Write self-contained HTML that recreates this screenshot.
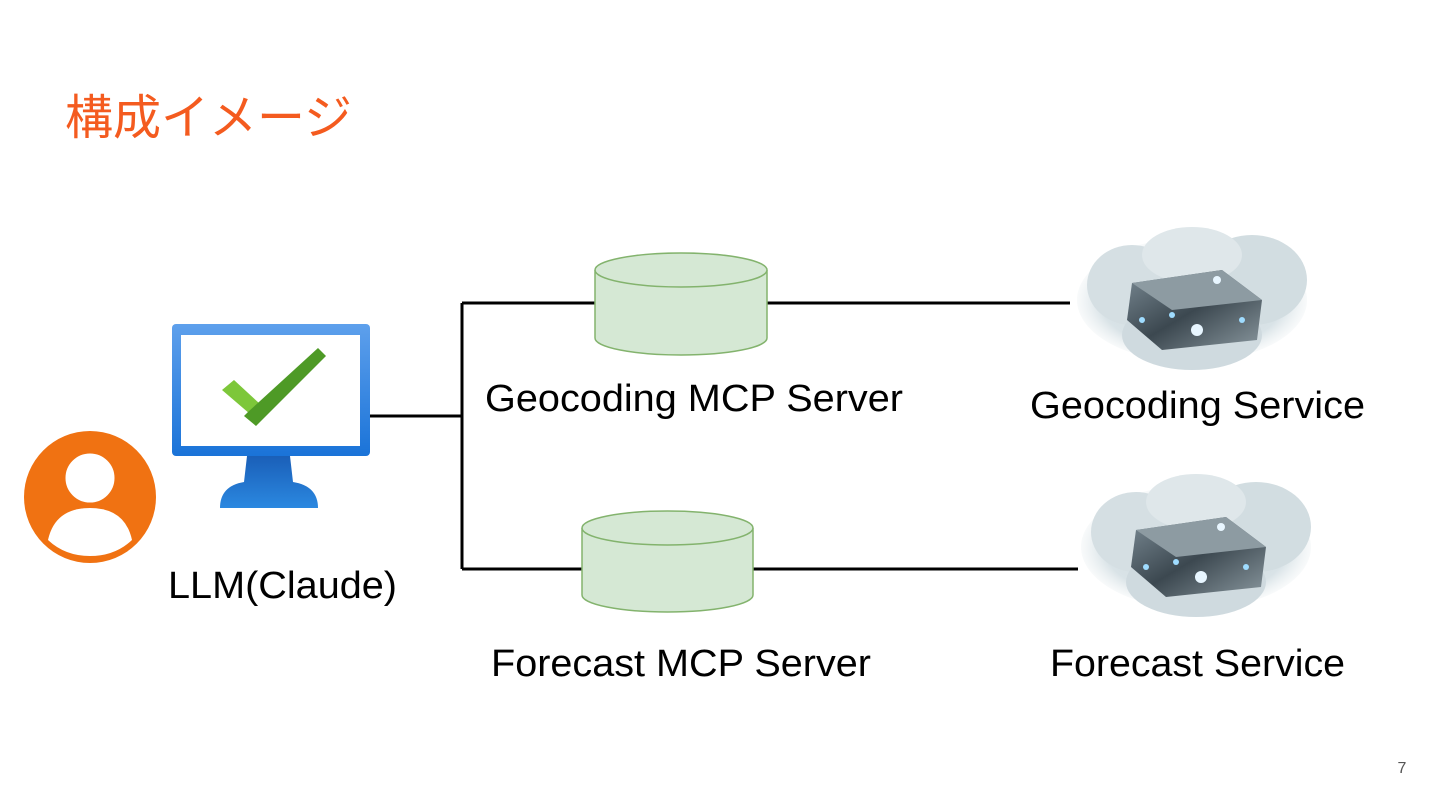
<!DOCTYPE html>
<html><head><meta charset="utf-8"><style>
html,body{margin:0;padding:0;background:#fff;}
svg{display:block;}
</style></head><body>
<svg width="1440" height="810" viewBox="0 0 1440 810" xmlns="http://www.w3.org/2000/svg">
<defs>
<linearGradient id="mon" x1="0" y1="0" x2="0" y2="1"><stop offset="0" stop-color="#5ea0ec"/><stop offset="1" stop-color="#1a73d8"/></linearGradient>
<linearGradient id="stand" x1="0" y1="0" x2="0" y2="1"><stop offset="0" stop-color="#1a5fb8"/><stop offset="1" stop-color="#2b88e0"/></linearGradient>
<radialGradient id="cloud" cx="0.5" cy="0.5" r="0.5"><stop offset="0" stop-color="#c9d6dc"/><stop offset="0.8" stop-color="#d9e3e7"/><stop offset="1" stop-color="#e8eef0" stop-opacity="0.3"/></radialGradient>
<linearGradient id="box" x1="0" y1="0" x2="1" y2="1"><stop offset="0" stop-color="#7a8a94"/><stop offset="0.5" stop-color="#3c4850"/><stop offset="1" stop-color="#8a989f"/></linearGradient>
<g id="cl">
<ellipse cx="120" cy="75" rx="115" ry="62" fill="url(#cloud)"/>
<ellipse cx="60" cy="60" rx="45" ry="40" fill="#d5dfe3"/>
<ellipse cx="180" cy="55" rx="55" ry="45" fill="#d2dde1"/>
<ellipse cx="120" cy="30" rx="50" ry="28" fill="#dfe7ea"/>
<ellipse cx="120" cy="110" rx="70" ry="35" fill="#cfdadf"/>
<polygon points="60,58 150,45 190,75 185,115 90,125 55,95" fill="url(#box)"/>
<polygon points="60,58 150,45 190,75 100,85" fill="#8d9ba2"/>
<circle cx="125" cy="105" r="6" fill="#e8f6ff"/>
<circle cx="145" cy="55" r="4" fill="#e8f6ff"/>
<circle cx="100" cy="90" r="3" fill="#9fdcff"/>
<circle cx="70" cy="95" r="3" fill="#9fdcff"/>
<circle cx="170" cy="95" r="3" fill="#9fdcff"/>
</g>
</defs>
<text x="65" y="134" font-family="Liberation Sans, Noto Sans CJK JP, sans-serif" font-size="48" fill="#f45b1f">構成イメージ</text>

<g stroke="#000" stroke-width="3" fill="none">
<path d="M370 416 H462 M462 303 V569 M462 303 H595 M462 569 H582 M767 303 H1070 M753 569 H1078"/>
</g>

<circle cx="90" cy="497" r="66" fill="#f07212"/>
<circle cx="90" cy="478" r="27" fill="#fff"/>
<path d="M48 540 Q55 508 90 508 Q125 508 132 540 Q115 556 90 556 Q65 556 48 540 Z" fill="#fff"/>
<circle cx="90" cy="478" r="27" fill="none" stroke="#f07212" stroke-width="5"/>

<rect x="172" y="324" width="198" height="132" rx="4" fill="url(#mon)"/>
<rect x="181" y="335" width="179" height="111" fill="#fff"/>
<path d="M247 456 H290 L293 482 Q318 486 318 508 H220 Q220 486 244 482 Z" fill="url(#stand)"/>
<path d="M222 390 L234 380 L260 404 L250 414 Z" fill="#7dc73a"/>
<path d="M248 412 L318 348 L326 356 L256 426 L244 416 Z" fill="#4e9a26"/>
<text x="168" y="598" textLength="229" lengthAdjust="spacingAndGlyphs" font-family="Liberation Sans, sans-serif" font-size="38" fill="#000">LLM(Claude)</text>

<g stroke="#83b36d" stroke-width="1.5" fill="#d5e8d4">
<path d="M595 270 V338 A86 17 0 0 0 767 338 V270"/>
<ellipse cx="681" cy="270" rx="86" ry="17"/>
<path d="M582 528 V595 A85.5 17 0 0 0 753 595 V528"/>
<ellipse cx="667.5" cy="528" rx="85.5" ry="17"/>
</g>
<text x="485" y="411" textLength="418" lengthAdjust="spacingAndGlyphs" font-family="Liberation Sans, sans-serif" font-size="38" fill="#000">Geocoding MCP Server</text>
<text x="491" y="676" textLength="380" lengthAdjust="spacingAndGlyphs" font-family="Liberation Sans, sans-serif" font-size="38" fill="#000">Forecast MCP Server</text>

<use href="#cl" x="1072" y="225"/>
<use href="#cl" x="1076" y="472"/>
<text x="1030" y="418" textLength="335" lengthAdjust="spacingAndGlyphs" font-family="Liberation Sans, sans-serif" font-size="38" fill="#000">Geocoding Service</text>
<text x="1050" y="676" textLength="295" lengthAdjust="spacingAndGlyphs" font-family="Liberation Sans, sans-serif" font-size="38" fill="#000">Forecast Service</text>

<text x="1402" y="773" text-anchor="middle" font-family="Liberation Sans, sans-serif" font-size="16" fill="#555">7</text>
</svg>
</body></html>
